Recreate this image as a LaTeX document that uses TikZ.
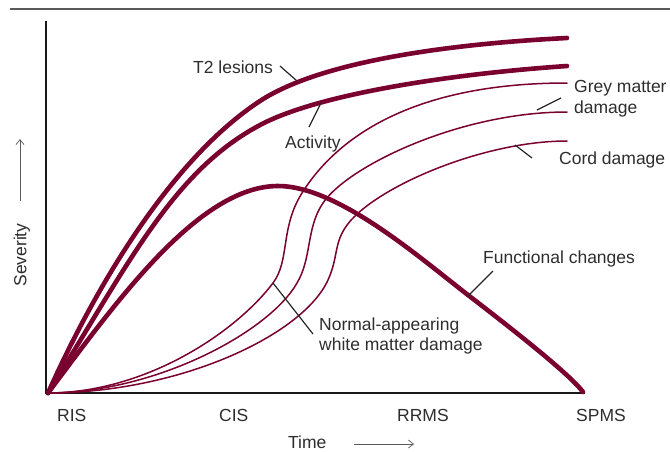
\documentclass[tikz,border=0pt]{standalone}
\usepackage{fontspec}
\setmainfont{Liberation Sans}
\usetikzlibrary{arrows.meta}
\definecolor{wine}{RGB}{122,0,48}
\definecolor{txt}{RGB}{45,45,45}
\definecolor{rule}{RGB}{90,90,90}
\begin{document}
\begin{tikzpicture}[x=1pt,y=-1pt,
  fat/.style={draw=wine,line width=4.6pt,line cap=round,line join=round},
  slim/.style={draw=wine,line width=1.5pt,line cap=round},
  lbl/.style={font=\fontsize{17.5}{20.5}\selectfont,text=txt,inner sep=0pt},
  leader/.style={draw=black!85,line width=1.2pt},
  axis/.style={draw=black!90,line width=2pt},
  dirarrow/.style={draw=rule,line width=0.7pt,-{Straight Barb[length=5pt,width=8pt]}}]
\useasboundingbox (0,0) rectangle (670,451);
% top rule
\draw[draw=rule,line width=1.4pt] (10,9) -- (670,9);
% axes
\coordinate (ytop) at (46,21);
\coordinate (orig) at (46,393);
\coordinate (xend) at (585,393);
\draw[axis] (ytop) -- (orig) -- (xend);
% direction arrows
\coordinate (ua) at (20,201);
\coordinate (ub) at (20,139);
\draw[dirarrow] (ua) -- (ub);
\coordinate (ta) at (354,444);
\coordinate (tb) at (414,444);
\draw[dirarrow] (ta) -- (tb);
% axis texts
\node[lbl,rotate=90,anchor=base] (sev) at (26.5,255) {Severity};
\node[lbl,anchor=base west] (time) at (288,448) {Time};
\node[lbl,anchor=base west] (ris) at (57,421) {RIS};
\node[lbl,anchor=base west] (cis) at (219,421) {CIS};
\node[lbl,anchor=base west] (rrms) at (397,421) {RRMS};
\node[lbl,anchor=base west] (spms) at (576,421) {SPMS};
% thin curves
\draw[slim] (47,393) .. controls (147,393) and (237,331) .. (273,283)
  .. controls (290,260.3) and (280,228) .. (302,193)
  .. controls (340,132.5) and (420,83) .. (567,83);
\draw[slim] (47,393) .. controls (157,393) and (270,331) .. (297,283)
  .. controls (312,258) and (306,228) .. (323,203)
  .. controls (348,166) and (460,112) .. (567,112);
\draw[slim] (47,393) .. controls (180,393) and (303,335) .. (328,280)
  .. controls (338,258) and (334,245) .. (345,228)
  .. controls (369,190) and (480,141) .. (567,141);
% thick curves
\draw[fat] (48,393) .. controls (101,275) and (176,156) .. (260,101)
  .. controls (320,61.7) and (447,44) .. (567,38);
\draw[fat] (48,393) .. controls (128,265) and (173,170) .. (262,124)
  .. controls (320,94) and (450,74) .. (567,66);
\draw[fat] (48,393) .. controls (114,305) and (198,186) .. (278,186)
  .. controls (338,186) and (420,258) .. (468,295)
  .. controls (500,319.7) and (568,372) .. (583,392);
% labels
\node[lbl,anchor=base west] (t2) at (193,73) {T2 lesions};
\node[lbl,anchor=base west] (act) at (285,148) {Activity};
\node[lbl,anchor=north west,align=left] (grey) at (574,80.5) {Grey matter\\damage};
\node[lbl,anchor=base west] (cord) at (559,164) {Cord damage};
\node[lbl,anchor=base west] (func) at (483,263) {Functional changes};
\node[lbl,anchor=north west,align=left] (nawm) at (319,317.5) {Normal-appearing\\white matter damage};
% leaders
\coordinate (t2a) at (280,66);  \coordinate (t2b) at (297,81);
\coordinate (aca) at (309,127); \coordinate (acb) at (321,103);
\coordinate (gma) at (537,110); \coordinate (gmb) at (561,98);
\coordinate (cda) at (515,145); \coordinate (cdb) at (532,158);
\coordinate (fca) at (493,271); \coordinate (fcb) at (468,296);
\coordinate (nwa) at (273,283); \coordinate (nwb) at (313,334);
\draw[leader] (t2a) -- (t2b);
\draw[leader] (aca) -- (acb);
\draw[leader] (gma) -- (gmb);
\draw[leader] (cda) -- (cdb);
\draw[leader] (fca) -- (fcb);
\draw[leader] (nwa) -- (nwb);
\end{tikzpicture}
\end{document}
